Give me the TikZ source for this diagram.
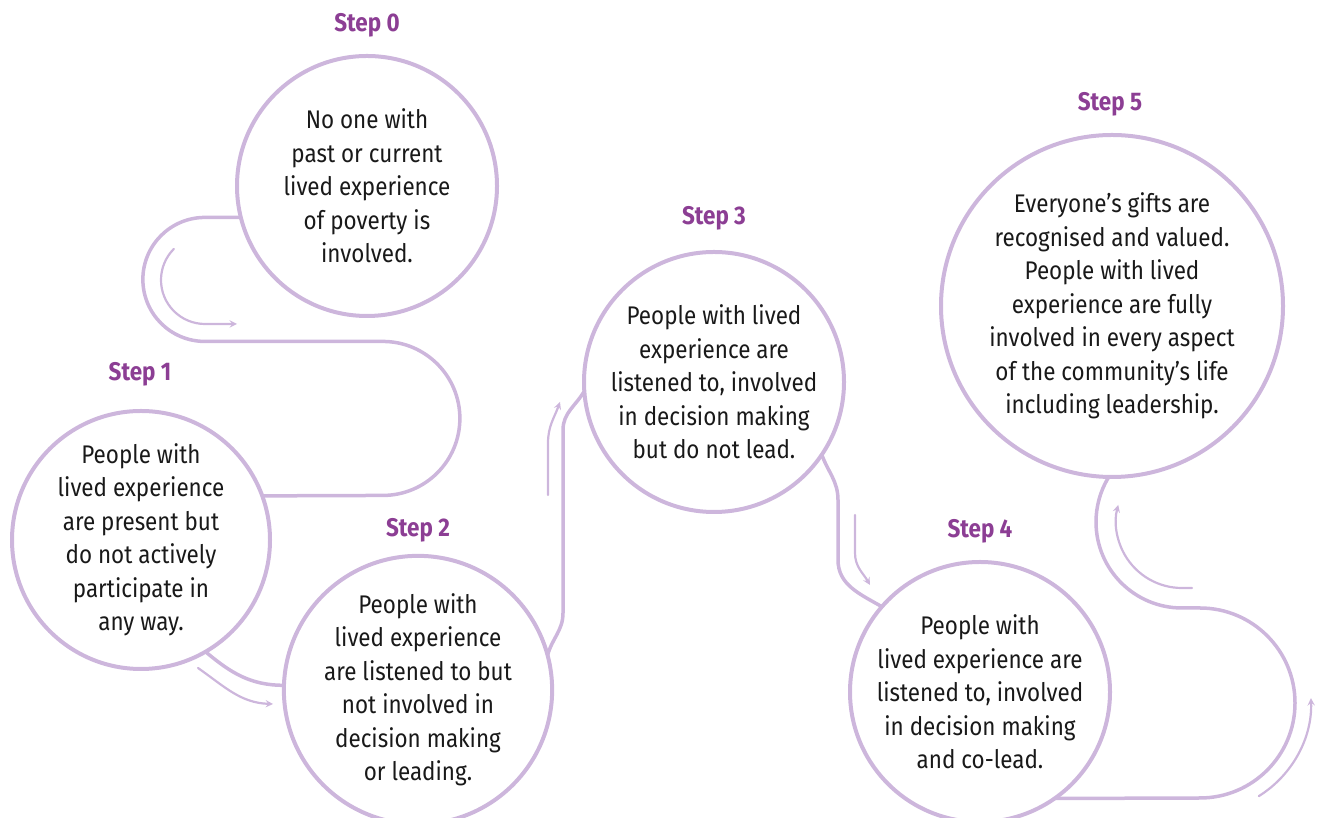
\documentclass[tikz,border=0pt]{standalone}
\usepackage{fontspec}
\setmainfont{Fira Sans}[FakeStretch=0.88]
\usepackage{tikz}
\usetikzlibrary{arrows}
\usetikzlibrary{positioning}
\definecolor{lilac}{RGB}{205,182,220}
\definecolor{plum}{RGB}{140,62,148}
\tikzset{>=stealth,
  stepcircle/.style={circle,draw=lilac,line width=4pt,minimum size=260pt,
    inner sep=0pt,outer sep=0pt,align=center,text=black!90,
    font=\fontsize{25.5}{33.5}\selectfont},
  steptitle/.style={text=plum,font=\fontsize{25.5}{28}\selectfont\bfseries},
  road/.style={draw=lilac,line width=3.5pt},
  flow/.style={draw=lilac,line width=2.2pt,->}}
\begin{document}
\begin{tikzpicture}[x=1pt,y=1pt,line cap=round]
\useasboundingbox (0,0) rectangle (1322,818);

  % the circles
  \node [stepcircle] (s0) at (367,632) {No one with\\past or current\\lived experience\\of poverty is\\involved.};
  \node [stepcircle,minimum size=258pt] (s1) at (141,278) {People with\\lived experience\\are present but\\do not actively\\participate in\\any way.};
  \node [stepcircle] (s2) at (418,128) {People with\\lived experience\\are listened to but\\not involved in\\decision making\\or leading.};
  \node [stepcircle] (s3) at (714,436) {People with lived\\experience are\\listened to, involved\\in decision making\\but do not lead.};
  \node [stepcircle] (s4) at (980,126) {People with\\lived experience are\\listened to, involved\\in decision making\\and co-lead.};
  \node [stepcircle,minimum size=342pt] (s5) at (1112,512) {Everyone’s gifts are\\recognised and valued.\\People with lived\\experience are fully\\involved in every aspect\\of the community’s life\\including leadership.};

  \node [steptitle] (t0) at (367,793) {Step 0};
  \node [steptitle] (t1) at (140,444) {Step 1};
  \node [steptitle] (t2) at (418,288) {Step 2};
  \node [steptitle] (t3) at (714,600) {Step 3};
  \node [steptitle] (t4) at (980,287) {Step 4};
  \node [steptitle] (t5) at (1110,714) {Step 5};

  % the road
  \draw [road] (s0.194) -- ++(-36,0) arc[start angle=90,end angle=270,radius=62]
    -- ++(178,0) arc[start angle=90,end angle=-90,radius=77] -- (s1.20);
  \draw [road] (s1.-60) to[out=-40,in=180] (s2.178);
  \draw [road] (s2.15) to[out=75,in=-90] (563,205) -- (563,388) to[out=90,in=240] (s3.184);
  \draw [road] (s3.-34) to[out=-70,in=90] (838,318) -- (838,258) to[out=-90,in=150] (s4.139);
  \draw [road] (s4.-55) -- (1200,20) arc[start angle=-90,end angle=90,radius=95]
    -- (1182,210) arc[start angle=270,end angle=150,radius=86] -- (s5.-91);

  % the little arrows
  \draw [flow] (205,538) ++(135:44) arc[start angle=135,end angle=270,radius=44] -- ++(32,0);
  \draw [flow] (198,150) to[out=-35,in=178] (273,114);
  \draw [flow] (548,323) -- (548,375) to[out=90,in=250] (560,416);
  \draw [flow] (855,303) -- (855,265) to[out=-90,in=120] (870,233);
  \draw [flow] (1192,230) -- (1182,230) arc[start angle=270,end angle=165,radius=66];
  \draw [flow] (1200,116) ++(-58:111) arc[start angle=-58,end angle=2,radius=111];

\end{tikzpicture}
\end{document}
